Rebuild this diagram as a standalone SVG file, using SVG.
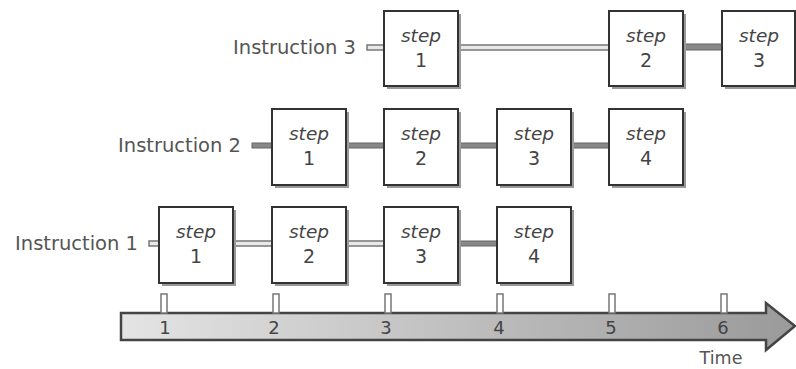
<svg xmlns="http://www.w3.org/2000/svg" width="796" height="369" viewBox="0 0 796 369">
<defs>
<linearGradient id="bar" x1="0" y1="0" x2="1" y2="0">
<stop offset="0" stop-color="#e4e4e4"/>
<stop offset="1" stop-color="#9a9a9a"/>
</linearGradient>
<style>
.box{fill:#fff;stroke:#333;stroke-width:2}
.sh{fill:#999}
.st{font-family:"DejaVu Sans",sans-serif;font-size:18.5px;font-style:italic;fill:#444;text-anchor:middle}
.num{font-family:"DejaVu Sans",sans-serif;font-size:19px;fill:#444;text-anchor:middle}
.lbl{font-family:"DejaVu Sans",sans-serif;font-size:19.5px;fill:#555;text-anchor:end}
.c2{fill:#e8e8e8;stroke:#777;stroke-width:1.5}
.c1{fill:#888;stroke:#666;stroke-width:1}
.tick{fill:#fff;stroke:#777;stroke-width:1.5}
.tn{font-family:"DejaVu Sans",sans-serif;font-size:18px;fill:#444;text-anchor:middle}
</style>
</defs>
<rect width="796" height="369" fill="#fff"/>
<g id="connectors">
<rect class="c2" x="367" y="45" width="17" height="5"/>
<rect class="c2" x="458" y="45" width="151" height="5"/>
<rect class="c1" x="683" y="44" width="39" height="6"/>
<rect class="c1" x="252" y="143" width="20" height="5"/>
<rect class="c1" x="346" y="143" width="38" height="5"/>
<rect class="c1" x="458" y="143" width="39" height="5"/>
<rect class="c1" x="571" y="143" width="38" height="5"/>
<rect class="c2" x="149" y="241" width="10" height="5"/>
<rect class="c2" x="233" y="241" width="39" height="5"/>
<rect class="c2" x="346" y="241" width="38" height="5"/>
<rect class="c1" x="458" y="241" width="39" height="5"/>
</g>
<g id="labels">
<text class="lbl" x="356" y="54">Instruction 3</text>
<text class="lbl" x="241" y="152">Instruction 2</text>
<text class="lbl" x="138" y="250">Instruction 1</text>
</g>
<g id="i3s1"><rect class="sh" x="387" y="14" width="74" height="75"/><rect class="box" x="384" y="11" width="74" height="75"/><text class="st" x="421" y="42">step</text><text class="num" x="421" y="67">1</text></g>
<g id="i3s2"><rect class="sh" x="612" y="14" width="74" height="75"/><rect class="box" x="609" y="11" width="74" height="75"/><text class="st" x="646" y="42">step</text><text class="num" x="646" y="67">2</text></g>
<g id="i3s3"><rect class="sh" x="725" y="14" width="74" height="75"/><rect class="box" x="722" y="11" width="73" height="75"/><text class="st" x="759" y="42">step</text><text class="num" x="759" y="67">3</text></g>
<g id="i2s1"><rect class="sh" x="275" y="112" width="74" height="76"/><rect class="box" x="272" y="109" width="74" height="76"/><text class="st" x="309" y="140">step</text><text class="num" x="309" y="165">1</text></g>
<g id="i2s2"><rect class="sh" x="387" y="112" width="74" height="76"/><rect class="box" x="384" y="109" width="74" height="76"/><text class="st" x="421" y="140">step</text><text class="num" x="421" y="165">2</text></g>
<g id="i2s3"><rect class="sh" x="500" y="112" width="74" height="76"/><rect class="box" x="497" y="109" width="74" height="76"/><text class="st" x="534" y="140">step</text><text class="num" x="534" y="165">3</text></g>
<g id="i2s4"><rect class="sh" x="612" y="112" width="74" height="76"/><rect class="box" x="609" y="109" width="74" height="76"/><text class="st" x="646" y="140">step</text><text class="num" x="646" y="165">4</text></g>
<g id="i1s1"><rect class="sh" x="162" y="210" width="74" height="76"/><rect class="box" x="159" y="207" width="74" height="76"/><text class="st" x="196" y="238">step</text><text class="num" x="196" y="263">1</text></g>
<g id="i1s2"><rect class="sh" x="275" y="210" width="74" height="76"/><rect class="box" x="272" y="207" width="74" height="76"/><text class="st" x="309" y="238">step</text><text class="num" x="309" y="263">2</text></g>
<g id="i1s3"><rect class="sh" x="387" y="210" width="74" height="76"/><rect class="box" x="384" y="207" width="74" height="76"/><text class="st" x="421" y="238">step</text><text class="num" x="421" y="263">3</text></g>
<g id="i1s4"><rect class="sh" x="500" y="210" width="74" height="76"/><rect class="box" x="497" y="207" width="74" height="76"/><text class="st" x="534" y="238">step</text><text class="num" x="534" y="263">4</text></g>
<g id="timeline">
<path d="M121,313 H766 V303 L795,326 L766,350 V340 H121 Z" fill="url(#bar)" stroke="#444" stroke-width="2.5" stroke-linejoin="miter"/>
<rect class="tick" x="161" y="294" width="6" height="19"/>
<rect class="tick" x="273" y="294" width="6" height="19"/>
<rect class="tick" x="385" y="294" width="6" height="19"/>
<rect class="tick" x="497" y="294" width="6" height="19"/>
<rect class="tick" x="609" y="294" width="6" height="19"/>
<rect class="tick" x="721" y="294" width="6" height="19"/>
<text class="tn" x="165" y="334">1</text>
<text class="tn" x="274" y="334">2</text>
<text class="tn" x="386" y="334">3</text>
<text class="tn" x="499" y="334">4</text>
<text class="tn" x="611" y="334">5</text>
<text class="tn" x="723" y="334">6</text>
<text x="721" y="364" font-family="DejaVu Sans, sans-serif" font-size="17.5" fill="#555" text-anchor="middle">Time</text>
</g>
</svg>
